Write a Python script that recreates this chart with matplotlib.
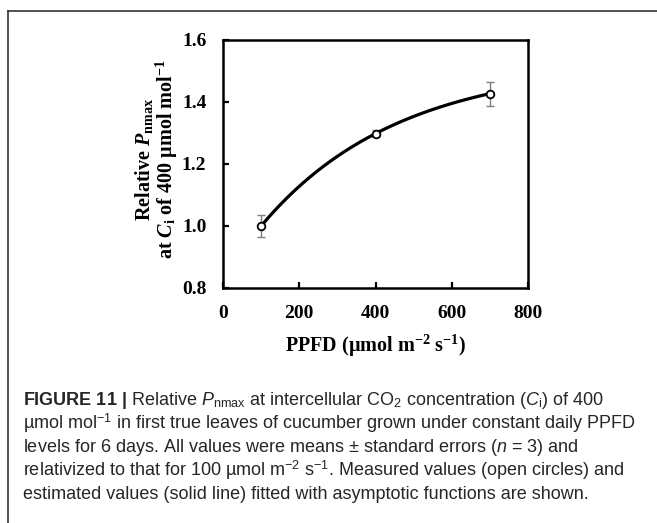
import matplotlib
matplotlib.use("Agg")
import matplotlib.pyplot as plt
import numpy as np
from matplotlib.lines import Line2D

# measured means and standard errors
ppfd = [100, 400, 700]
rel_pnmax = [1.000, 1.298, 1.427]
rel_se = [0.037, 0.011, 0.039]

# asymptotic fit y = a - b * exp(-c * x)
fit_a = 1.5255
fit_b = 0.6946
fit_c = 0.002791

x_ticks = [0, 200, 400, 600, 800]
y_ticks = [0.8, 1.0, 1.2, 1.4, 1.6]

caption_lines = [
    r"$\mathbf{FIGURE\ 11\ |}$ Relative $\mathit{P}_{\mathsf{nmax}}$ at intercellular CO$_{\mathsf{2}}$ concentration ($\mathit{C}_{\mathsf{i}}$) of 400",
    r"µmol mol$^{\mathsf{-1}}$ in first true leaves of cucumber grown under constant daily PPFD",
    r"levels for 6 days. All values were means ± standard errors ($\mathit{n}$ = 3) and",
    r"relativized to that for 100 µmol m$^{\mathsf{-2}}$ s$^{\mathsf{-1}}$. Measured values (open circles) and",
    r"estimated values (solid line) fitted with asymptotic functions are shown.",
]

plt.rcParams["mathtext.fontset"] = "custom"
plt.rcParams["mathtext.default"] = "rm"
plt.rcParams["mathtext.rm"] = "Liberation Serif:bold"
plt.rcParams["mathtext.bfit"] = "Liberation Serif:italic:bold"
plt.rcParams["mathtext.sf"] = "Liberation Sans"
plt.rcParams["mathtext.it"] = "Liberation Sans:italic"
plt.rcParams["mathtext.bf"] = "Liberation Sans:bold"

W, H = 657, 523
fig = plt.figure(figsize=(W / 100, H / 100), dpi=100)
ax = fig.add_axes([223 / W, 1 - 288 / H, (528 - 223) / W, (288 - 40) / H])

xs = np.linspace(ppfd[0], ppfd[-1], 200)
ax.plot(xs, fit_a - fit_b * np.exp(-fit_c * xs), color="black", lw=2.3, zorder=2)
ax.errorbar(ppfd, rel_pnmax, yerr=rel_se, fmt="none", ecolor="#7f7f7f",
            elinewidth=1.0, capsize=3, capthick=1.0, zorder=1)
ax.plot(ppfd, rel_pnmax, "o", ms=5.5, mfc="white", mec="black", mew=1.3, zorder=3)

ax.set_xlim(0, 800)
ax.set_ylim(0.8, 1.6)
ax.set_xticks(x_ticks)
ax.set_yticks(y_ticks)
ax.set_yticklabels([f"{v:.1f}" for v in y_ticks])
for s in ax.spines.values():
    s.set_linewidth(1.8)
ax.tick_params(direction="in", length=4, width=1.6, pad=12)
for lab in ax.get_xticklabels() + ax.get_yticklabels():
    lab.set_fontfamily("Liberation Serif")
    lab.set_fontweight("bold")
    lab.set_fontsize(14)

ax.set_xlabel(r"PPFD (µmol m$^{-2}$ s$^{-1}$)", family="Liberation Serif",
              weight="bold", fontsize=14.5, labelpad=8)

fig.text(144 / W, 1 - 159 / H, r"Relative $\mathbfit{P}_{\mathrm{nmax}}$",
         rotation=90, ha="center", va="center", family="Liberation Serif",
         weight="bold", fontsize=14.5)
fig.text(167 / W, 1 - 159 / H, r"at $\mathbfit{C}_{\mathrm{i}}$ of 400 µmol mol$^{-1}$",
         rotation=90, ha="center", va="center", family="Liberation Serif",
         weight="bold", fontsize=14.5)

# caption
baselines = [405, 429, 452, 476, 499]
for txt, yb in zip(caption_lines, baselines):
    fig.text(23 / W, 1 - yb / H, txt, ha="left", va="baseline",
             family="Liberation Sans", fontsize=13, color="#262626")

# partial frame (left and top)
fig.add_artist(Line2D([7.5 / W, 7.5 / W], [0, 1 - 11 / H], transform=fig.transFigure,
                      color="#333333", lw=1.2))
fig.add_artist(Line2D([7.5 / W, 1], [1 - 11 / H, 1 - 11 / H], transform=fig.transFigure,
                      color="#333333", lw=1.2))

fig.savefig("out.png", dpi=100)
